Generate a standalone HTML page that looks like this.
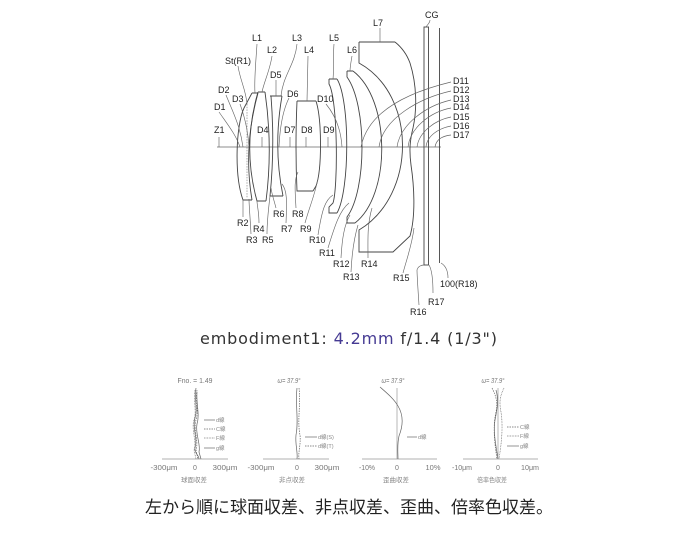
<!DOCTYPE html>
<html>
<head>
<meta charset="utf-8">
<style>
html,body{margin:0;padding:0;background:#fff;}
body{width:700px;height:534px;overflow:hidden;}
svg{display:block;}
.lb{font-family:"Liberation Sans",sans-serif;font-size:9px;fill:#1e1e1e;}
.ln{fill:none;stroke:#444;stroke-width:0.9;}
.ld{fill:none;stroke:#666;stroke-width:0.65;}
.ax{fill:none;stroke:#999;stroke-width:0.7;}
.cv{fill:none;stroke:#666;stroke-width:0.7;}
.ct{font-family:"Liberation Sans","Noto Sans CJK JP",sans-serif;font-size:7px;fill:#777;}
.lg{font-family:"Liberation Sans","Noto Sans CJK JP",sans-serif;font-size:5.5px;fill:#888;}
.cap{font-family:"Liberation Sans","Noto Sans CJK JP",sans-serif;font-size:6.5px;fill:#888;}
</style>
</head>
<body>
<svg width="700" height="534" viewBox="0 0 700 534" xmlns="http://www.w3.org/2000/svg">
<rect width="700" height="534" fill="#fff"/>

<!-- optical axis -->
<line x1="217" y1="147" x2="441" y2="147" stroke="#666" stroke-width="0.7"/>

<!-- stop -->
<line x1="247" y1="104" x2="247" y2="198" stroke="#888" stroke-width="0.7" stroke-dasharray="1.5,1.2"/>

<!-- L1 -->
<path class="ln" d="M252,93 L258,93 M252,93 L244,108 C236,125 234,175 243,200 L252,200 M258,93 Q243,147.5 252,200"/>
<!-- L2 -->
<path class="ln" d="M258,92 L265,92 M258,92 Q242,147 257,201 L266,201 M265,92 Q273,147 266,201"/>
<!-- L3 -->
<path class="ln" d="M270,96 L282,96 M271,96 Q275,147 270,196 L283,196 M282,96 Q273,147 283,196"/>
<!-- L4 -->
<path class="ln" d="M297,101 L316,101 M297,101 Q295,147 297,191 L313,191 M316,101 C322,120 322,170 316,186 L313,191"/>
<!-- L5 -->
<path class="ln" d="M329,79 L337,79 M329,79 L329,84 C338,100 338,188 333,203 L329,207 L329,213 L337,213 M337,79 C350,100 350,190 337,213"/>
<!-- L6 -->
<path class="ln" d="M347,71 L353,71 M347,71 L347,77 C367,105 367,190 347,217 L347,223 L355,223 M353,71 C391,100 391,195 355,223"/>
<!-- L7 -->
<path class="ln" d="M359,42 L395,42 M359,42 L359,63 C417,95 417,195 359,230 L359,252 L393,252 L410,236 C416,215 414,185 411,165 C409,150 410,140 413,128 C417,110 417,85 410,63 C406,52 400,46 395,42"/>

<!-- CG -->
<rect x="424" y="27" width="4.5" height="238" fill="none" stroke="#444" stroke-width="0.9"/>
<line x1="439.5" y1="28" x2="439.5" y2="263" stroke="#444" stroke-width="0.9"/>

<!-- top leaders -->
<path class="ld" d="M257,44 C256,60 254,80 255,93"/>
<path class="ld" d="M272,56 C270,70 264,82 262,92"/>
<path class="ld" d="M297,44 C295,65 283,75 281,96"/>
<path class="ld" d="M308,56 L307,101"/>
<path class="ld" d="M334,44 C333,55 334,70 333,79"/>
<path class="ld" d="M352,56 C351,62 350,67 350,71"/>
<path class="ld" d="M380,28 L380,42"/>
<path class="ld" d="M430,20 C430,23 427,25 426,27"/>
<path class="ld" d="M238,66 C240,80 246,90 247,104"/>
<path class="ld" d="M226,95 C232,110 240,125 243,147"/>
<path class="ld" d="M240,104 C244,115 248,130 249,147"/>
<path class="ld" d="M219,112 C228,125 236,135 240,147"/>
<path class="ld" d="M276,80 L276,96"/>
<path class="ld" d="M289,98 C283,110 280,125 279,147"/>
<path class="ld" d="M326,104 C335,115 341,130 342,147"/>
<path class="ld" d="M219,137 L219,147 M262,137 L262,147 M290,137 L290,147 M306,137 L306,147 M328,137 L328,147"/>
<!-- D11-D17 leaders -->
<path class="ld" d="M451,82 C410,92 368,110 361,147"/>
<path class="ld" d="M451,91 C420,98 383,118 379,147"/>
<path class="ld" d="M451,100 C425,106 400,125 397,147"/>
<path class="ld" d="M451,108 C430,112 410,128 408,147"/>
<path class="ld" d="M451,117 C435,120 419,132 417,147"/>
<path class="ld" d="M451,126 C440,128 427,135 426,147"/>
<path class="ld" d="M451,135 C442,136 436,140 435,147"/>

<!-- bottom leaders -->
<path class="ld" d="M243,217 L243,200"/>
<path class="ld" d="M251,234 C250,215 249,205 249,199"/>
<path class="ld" d="M259,223 C259,212 257,205 257,201"/>
<path class="ld" d="M267,234 C267,220 269,205 270,196"/>
<path class="ld" d="M276,208 C274,200 272,195 271,188"/>
<path class="ld" d="M286,223 C287,200 287,190 282,184"/>
<path class="ld" d="M296,208 C295,190 294,180 298,172"/>
<path class="ld" d="M305,223 C310,205 315,195 318,178"/>
<path class="ld" d="M318,235 C322,210 325,200 333,195"/>
<path class="ld" d="M328,248 C335,225 340,210 349,203"/>
<path class="ld" d="M341,258 C342,240 344,225 350,215"/>
<path class="ld" d="M351,272 C352,250 355,235 358,225"/>
<path class="ld" d="M368,258 C368,240 367,225 372,208"/>
<path class="ld" d="M403,273 C407,258 412,245 414,228"/>
<path class="ld" d="M419,305 C418,290 417,275 417,270 C418,266 422,265 424,265"/>
<path class="ld" d="M433,293 C433,280 432,270 429,265"/>
<path class="ld" d="M448,278 C448,272 446,266 441,263"/>

<!-- labels -->
<text class="lb" x="425" y="18">CG</text>
<text class="lb" x="373" y="26">L7</text>
<text class="lb" x="252" y="41">L1</text>
<text class="lb" x="292" y="41">L3</text>
<text class="lb" x="329" y="41">L5</text>
<text class="lb" x="267" y="53">L2</text>
<text class="lb" x="304" y="53">L4</text>
<text class="lb" x="347" y="53">L6</text>
<text class="lb" x="225" y="64">St(R1)</text>
<text class="lb" x="270" y="78">D5</text>
<text class="lb" x="218" y="93">D2</text>
<text class="lb" x="287" y="97">D6</text>
<text class="lb" x="232" y="102">D3</text>
<text class="lb" x="317" y="102">D10</text>
<text class="lb" x="214" y="110">D1</text>
<text class="lb" x="214" y="133">Z1</text>
<text class="lb" x="257" y="133">D4</text>
<text class="lb" x="284" y="133">D7</text>
<text class="lb" x="301" y="133">D8</text>
<text class="lb" x="323" y="133">D9</text>
<text class="lb" x="453" y="84">D11</text>
<text class="lb" x="453" y="93">D12</text>
<text class="lb" x="453" y="102">D13</text>
<text class="lb" x="453" y="110">D14</text>
<text class="lb" x="453" y="120">D15</text>
<text class="lb" x="453" y="129">D16</text>
<text class="lb" x="453" y="138">D17</text>

<text class="lb" x="237" y="226">R2</text>
<text class="lb" x="273" y="217">R6</text>
<text class="lb" x="292" y="217">R8</text>
<text class="lb" x="253" y="232">R4</text>
<text class="lb" x="281" y="232">R7</text>
<text class="lb" x="300" y="232">R9</text>
<text class="lb" x="246" y="243">R3</text>
<text class="lb" x="262" y="243">R5</text>
<text class="lb" x="309" y="243">R10</text>
<text class="lb" x="319" y="256">R11</text>
<text class="lb" x="333" y="267">R12</text>
<text class="lb" x="361" y="267">R14</text>
<text class="lb" x="343" y="280">R13</text>
<text class="lb" x="393" y="281">R15</text>
<text class="lb" x="440" y="287">100(R18)</text>
<text class="lb" x="428" y="305">R17</text>
<text class="lb" x="410" y="315">R16</text>

<!-- caption -->
<text x="200" y="344" font-family="'DejaVu Sans','Liberation Sans',sans-serif" font-size="16" fill="#333" textLength="297" lengthAdjust="spacing">embodiment1: <tspan fill="#453a93">4.2mm</tspan> f/1.4 (1/3")</text>

<!-- Chart 1 -->
<text class="ct" x="195" y="383" text-anchor="middle" textLength="35" lengthAdjust="spacingAndGlyphs">Fno. = 1.49</text>
<line class="ax" x1="162" y1="459" x2="228" y2="459"/>
<path class="cv" d="M196,388 C194,400 198,408 195,418 C192,428 198,438 195,448 C194,453 199,455 199,459"/>
<path class="cv" stroke-dasharray="1.5,1" d="M197,390 C195,402 199,410 196,420 C193,430 199,440 196,450 L198,459"/>
<path class="cv" stroke-dasharray="0.8,0.8" d="M195,390 C193,402 197,410 194,420 C191,430 197,440 194,450 L196,459"/>
<path class="cv" stroke="#999" d="M197,392 C196,404 200,414 197,424 C195,434 201,444 199,452 L201,459"/>
<line class="cv" x1="204" y1="420" x2="215" y2="420"/>
<line class="cv" x1="204" y1="429" x2="215" y2="429" stroke-dasharray="1.5,1"/>
<line class="cv" x1="204" y1="438" x2="215" y2="438" stroke-dasharray="0.8,0.8"/>
<line class="cv" x1="204" y1="448" x2="215" y2="448" stroke="#999"/>
<text class="lg" x="216" y="422">d線</text>
<text class="lg" x="216" y="431">C線</text>
<text class="lg" x="216" y="440">F線</text>
<text class="lg" x="216" y="450">g線</text>
<text class="ct" x="164" y="470" text-anchor="middle" textLength="27" lengthAdjust="spacingAndGlyphs">-300μm</text>
<text class="ct" x="195" y="470" text-anchor="middle">0</text>
<text class="ct" x="225" y="470" text-anchor="middle" textLength="25" lengthAdjust="spacingAndGlyphs">300μm</text>
<text class="cap" x="194" y="482" text-anchor="middle" textLength="26" lengthAdjust="spacingAndGlyphs">球面収差</text>

<!-- Chart 2 -->
<text class="ct" x="289" y="383" text-anchor="middle" font-style="italic" textLength="23" lengthAdjust="spacingAndGlyphs">ω= 37.9°</text>
<line class="ax" x1="263" y1="459" x2="329" y2="459"/>
<path class="cv" d="M297,388 C295,405 299,420 296,435 C295,445 298,452 297,459"/>
<path class="cv" stroke="#999" stroke-dasharray="1.5,1" d="M299,388 C301,405 297,420 300,435 C301,445 298,452 299,459"/>
<line class="cv" x1="305" y1="437" x2="317" y2="437"/>
<line class="cv" x1="305" y1="446" x2="317" y2="446" stroke-dasharray="1.5,1"/>
<text class="lg" x="318" y="439">d線(S)</text>
<text class="lg" x="318" y="448">d線(T)</text>
<text class="ct" x="261" y="470" text-anchor="middle" textLength="27" lengthAdjust="spacingAndGlyphs">-300μm</text>
<text class="ct" x="297" y="470" text-anchor="middle">0</text>
<text class="ct" x="327" y="470" text-anchor="middle" textLength="25" lengthAdjust="spacingAndGlyphs">300μm</text>
<text class="cap" x="292" y="482" text-anchor="middle" textLength="26" lengthAdjust="spacingAndGlyphs">非点収差</text>

<!-- Chart 3 -->
<text class="ct" x="393" y="383" text-anchor="middle" font-style="italic" textLength="23" lengthAdjust="spacingAndGlyphs">ω= 37.9°</text>
<line class="ax" x1="362" y1="459" x2="437" y2="459"/>
<line class="ax" x1="397" y1="388" x2="397" y2="459"/>
<path class="cv" stroke="#444" d="M380,387 C388,394 394,399 398,406 C404,416 403,426 399,436 C397,445 398,452 398,459"/>
<line class="cv" x1="407" y1="437" x2="417" y2="437"/>
<text class="lg" x="418" y="439">d線</text>
<text class="ct" x="367" y="470" text-anchor="middle" textLength="16" lengthAdjust="spacingAndGlyphs">-10%</text>
<text class="ct" x="397" y="470" text-anchor="middle">0</text>
<text class="ct" x="433" y="470" text-anchor="middle" textLength="15" lengthAdjust="spacingAndGlyphs">10%</text>
<text class="cap" x="396" y="482" text-anchor="middle" textLength="26" lengthAdjust="spacingAndGlyphs">歪曲収差</text>

<!-- Chart 4 -->
<text class="ct" x="493" y="383" text-anchor="middle" font-style="italic" textLength="23" lengthAdjust="spacingAndGlyphs">ω= 37.9°</text>
<line class="ax" x1="463" y1="459" x2="538" y2="459"/>
<line class="ax" x1="498" y1="388" x2="498" y2="459"/>
<path class="cv" stroke-dasharray="1.5,1" d="M492,388 C496,396 498,402 496,412 C493,425 494,440 497,459"/>
<path class="cv" stroke-dasharray="0.8,0.8" d="M504,388 C500,396 499,402 501,412 C503,425 502,440 499,459"/>
<path class="cv" stroke="#999" d="M496,390 C499,400 497,410 495,420 C493,432 496,446 498,459"/>
<line class="cv" x1="507" y1="427" x2="519" y2="427" stroke-dasharray="1.5,1"/>
<line class="cv" x1="507" y1="436" x2="519" y2="436" stroke-dasharray="0.8,0.8"/>
<line class="cv" x1="507" y1="446" x2="519" y2="446" stroke="#999"/>
<text class="lg" x="520" y="429">C線</text>
<text class="lg" x="520" y="438">F線</text>
<text class="lg" x="520" y="448">g線</text>
<text class="ct" x="462" y="470" text-anchor="middle" textLength="20" lengthAdjust="spacingAndGlyphs">-10μm</text>
<text class="ct" x="498" y="470" text-anchor="middle">0</text>
<text class="ct" x="530" y="470" text-anchor="middle" textLength="18" lengthAdjust="spacingAndGlyphs">10μm</text>
<text class="cap" x="492" y="482" text-anchor="middle" textLength="30" lengthAdjust="spacingAndGlyphs">倍率色収差</text>

<!-- Japanese caption -->
<text x="145" y="513" font-family="'Liberation Sans','Noto Sans CJK JP',sans-serif" font-size="17" fill="#222">左から順に球面収差、非点収差、歪曲、倍率色収差。</text>
</svg>
</body>
</html>
